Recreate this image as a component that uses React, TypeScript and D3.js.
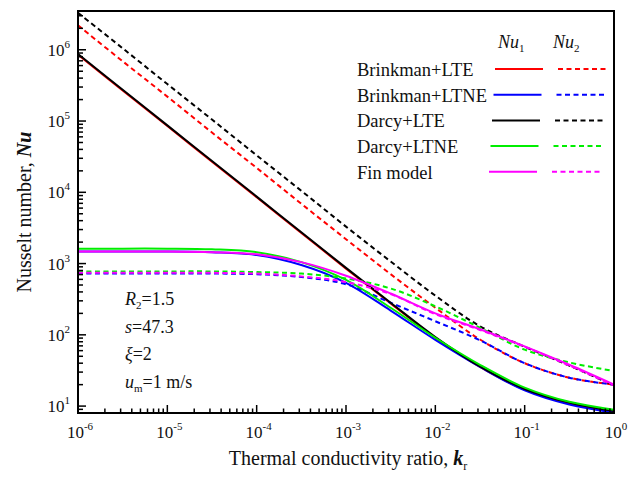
import React from 'react';
import * as d3 from 'd3';

// Thermal conductivity ratio samples (x)
const kr = [1e-6, 3.16e-6, 1e-5, 3.16e-5, 1e-4, 3.16e-4, 1e-3, 3.16e-3, 1e-2, 3.16e-2, 1e-1, 3.16e-1, 1];

// Nu1 (solid)
const brinkmanLTE_Nu1 = [8.5e5, 2.69e5, 8.5e4, 2.69e4, 8500, 2690, 850, 276, 91, 35.5, 17.0, 10.9, 8.3];
const brinkmanLTNE_Nu1 = [1480, 1480, 1480, 1445, 1320, 955, 537, 219, 85, 35.5, 16.6, 10.5, 8.1];
const darcyLTE_Nu1 = [8.7e5, 2.75e5, 8.7e4, 2.75e4, 8700, 2750, 870, 282, 93, 36, 17.4, 11.2, 8.5];
const darcyLTNE_Nu1 = [1620, 1620, 1620, 1585, 1445, 1047, 589, 240, 91, 38, 18.2, 11.5, 8.9];
const fin_Nu1 = [1480, 1480, 1480, 1445, 1350, 1047, 676, 380, 200, 120, 69, 38, 20];

// Nu2 (dashed)
const brinkmanLTE_Nu2 = [2.2e6, 6.9e5, 2.2e5, 6.9e4, 2.2e4, 6900, 2200, 710, 240, 86, 40, 25, 20];
const brinkmanLTNE_Nu2 = [725, 725, 725, 725, 708, 646, 513, 282, 155, 84, 40, 25, 20];
const darcyLTE_Nu2 = [3.3e6, 1.05e6, 3.3e5, 1.05e5, 3.3e4, 1.05e4, 3300, 1070, 355, 132, 68, 37, 19.5];
const darcyLTNE_Nu2 = [776, 776, 776, 776, 759, 724, 617, 447, 251, 126, 62, 41, 31];
const fin_Nu2 = [741, 741, 741, 741, 724, 661, 550, 372, 195, 117, 68, 37, 19.5];

const modelNames = ['Brinkman+LTE', 'Brinkman+LTNE', 'Darcy+LTE', 'Darcy+LTNE', 'Fin model'];
const modelColors = ['#ff0000', '#0000ff', '#000000', '#00ee00', '#ff00ff'];
const nu1Series = [brinkmanLTE_Nu1, brinkmanLTNE_Nu1, darcyLTE_Nu1, darcyLTNE_Nu1, fin_Nu1];
const nu2Series = [brinkmanLTE_Nu2, brinkmanLTNE_Nu2, darcyLTE_Nu2, darcyLTNE_Nu2, fin_Nu2];

const xExponents = [-6, -5, -4, -3, -2, -1, 0];
const yExponents = [1, 2, 3, 4, 5, 6];

const FONT = "'Liberation Serif'";

export default function App() {
  const left = 78, right = 614, top = 11, bottom = 413;
  const x = d3.scaleLog().domain([1e-6, 1]).range([left, right]);
  const y = d3.scaleLog().domain([8, 3.5e6]).range([bottom, top]);

  const line = d3
    .line<number>()
    .x((_, i) => x(kr[i]))
    .y((d) => y(d))
    .curve(d3.curveCatmullRom.alpha(0.5));

  const xTicks = x.ticks();
  const yTicks = y.ticks().filter((t) => t >= 8 && t <= 3.5e6);
  const isMajor = (t: number) => Math.abs(Math.log10(t) - Math.round(Math.log10(t))) < 1e-6;

  const dash = '5,3.5';
  const txt = { fontFamily: FONT, fill: '#111' } as React.CSSProperties;

  const layers: { d: number[]; color: string; dashed: boolean }[] = [];
  for (let i = 0; i < 5; i++) {
    layers.push({ d: nu1Series[i], color: modelColors[i], dashed: false });
    layers.push({ d: nu2Series[i], color: modelColors[i], dashed: true });
  }

  return (
    <div style={{ position: 'fixed', left: 0, top: 0 }}>
      <svg width={628} height={478} style={{ display: 'block', background: '#fff', fontFamily: FONT }}>
        <defs>
          <clipPath id="plotClip">
            <rect x={left} y={top} width={right - left} height={bottom - top} />
          </clipPath>
        </defs>

        <g clipPath="url(#plotClip)">
          {layers.map((l, i) => (
            <path
              key={i}
              d={line(l.d) || ''}
              fill="none"
              stroke={l.color}
              strokeWidth={2}
              strokeDasharray={l.dashed ? dash : undefined}
            />
          ))}
        </g>

        {/* ticks */}
        {xTicks.map((t, i) => (
          <line
            key={'xt' + i}
            x1={x(t)}
            x2={x(t)}
            y1={bottom}
            y2={bottom - (isMajor(t) ? 8 : 4.5)}
            stroke="#000"
            strokeWidth={1.5}
          />
        ))}
        {yTicks.map((t, i) => (
          <line
            key={'yt' + i}
            x1={left}
            x2={left + (isMajor(t) ? 8 : 5)}
            y1={y(t)}
            y2={y(t)}
            stroke="#000"
            strokeWidth={1.5}
          />
        ))}

        {/* frame */}
        <rect x={left} y={top} width={right - left} height={bottom - top} fill="none" stroke="#000" strokeWidth={2} />

        {/* x tick labels */}
        {xExponents.map((e) => (
          <text key={'xl' + e} x={x(Math.pow(10, e)) + 2} y={438} textAnchor="middle" fontSize={17} style={txt}>
            10
            <tspan dy={-8} fontSize={11}>
              {String(e)}
            </tspan>
          </text>
        ))}

        {/* y tick labels */}
        {yExponents.map((e) => (
          <text key={'yl' + e} x={70} y={y(Math.pow(10, e)) + 6} textAnchor="end" fontSize={17} style={txt}>
            10
            <tspan dy={-8} fontSize={11}>
              {String(e)}
            </tspan>
          </text>
        ))}

        {/* axis titles */}
        <text x={348} y={465} textAnchor="middle" fontSize={20} style={txt}>
          Thermal conductivity ratio,{' '}
          <tspan fontWeight="bold" fontStyle="italic">k</tspan>
          <tspan fontSize={12} dy={5}>r</tspan>
        </text>
        <text
          transform={`translate(31,${(top + bottom) / 2}) rotate(-90)`}
          textAnchor="middle"
          fontSize={20}
          style={txt}
        >
          Nusselt number,{' '}
          <tspan fontWeight="bold" fontStyle="italic">Nu</tspan>
        </text>

        {/* legend */}
        <text x={498} y={48} fontSize={18} style={txt}>
          <tspan fontStyle="italic">Nu</tspan>
          <tspan fontSize={11} dy={4}>1</tspan>
        </text>
        <text x={553} y={48} fontSize={18} style={txt}>
          <tspan fontStyle="italic">Nu</tspan>
          <tspan fontSize={11} dy={4}>2</tspan>
        </text>
        {modelNames.map((name, i) => {
          const ly = 69 + i * 25.7;
          const off = i * 1.5;
          return (
            <g key={'lg' + i}>
              <text x={357} y={ly + 7} fontSize={18.5} style={txt}>
                {name}
              </text>
              <line x1={495 - off} x2={543 - off} y1={ly} y2={ly} stroke={modelColors[i]} strokeWidth={2} />
              <line
                x1={558 - off}
                x2={607 - off}
                y1={ly}
                y2={ly}
                stroke={modelColors[i]}
                strokeWidth={2}
                strokeDasharray={dash}
              />
            </g>
          );
        })}

        {/* annotations */}
        <text x={125} y={305} fontSize={18} style={txt}>
          <tspan fontStyle="italic">R</tspan>
          <tspan fontSize={11} dy={4}>2</tspan>
          <tspan dy={-4}>=1.5</tspan>
        </text>
        <text x={125} y={333} fontSize={18} style={txt}>
          <tspan fontStyle="italic">s</tspan>=47.3
        </text>
        <text x={125} y={360} fontSize={18} style={txt}>
          <tspan fontStyle="italic">ξ</tspan>=2
        </text>
        <text x={125} y={388} fontSize={18} style={txt}>
          <tspan fontStyle="italic">u</tspan>
          <tspan fontSize={11} dy={4}>m</tspan>
          <tspan dy={-4}>=1 m/s</tspan>
        </text>
      </svg>
    </div>
  );
}
